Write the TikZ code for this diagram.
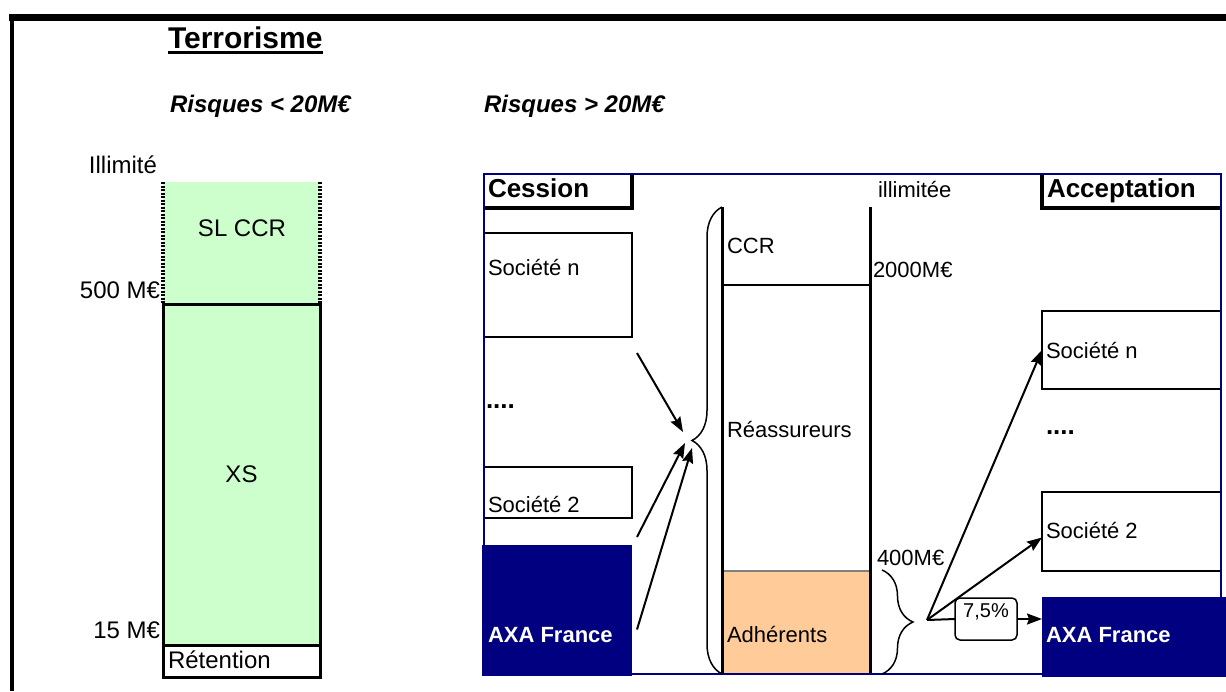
\documentclass[tikz,border=0pt]{standalone}
\usepackage{fontspec}
\setmainfont{Liberation Sans}
\usepackage{xcolor}
\usetikzlibrary{arrows.meta, positioning, decorations.pathreplacing}

\definecolor{axablue}{HTML}{000080}
\definecolor{xsgreen}{HTML}{CCFFCC}
\definecolor{adhorange}{HTML}{FFCC99}

\newcommand{\txtleft}{\fontsize{24}{28}\selectfont}
\newcommand{\txtright}{\fontsize{22}{26}\selectfont}
\newcommand{\txthead}{\bfseries\fontsize{26}{30}\selectfont}

\begin{document}
\begin{tikzpicture}[x=1pt, y=-1pt, inner sep=0pt, outer sep=0pt]
        \tikzstyle{txt} = [anchor=base west, font=\txtright]
        \tikzstyle{bigtxt} = [anchor=base west, font=\txtleft]
        \tikzstyle{head} = [anchor=base west, font=\txthead]
        \tikzstyle{company} = [rectangle, draw=black, line width=2.5pt, fill=white, anchor=north west]
        \tikzstyle{axa} = [rectangle, fill=axablue, anchor=north west]
        \tikzstyle{layer} = [rectangle, fill=xsgreen, anchor=north west, minimum width=157pt]
        \tikzstyle{tag} = [rectangle, draw=black, line width=1.5pt, fill=white, anchor=north west, minimum height=34pt]
        \tikzstyle{arrow} = [line width=2pt, -{Stealth[length=15pt, width=11pt, inset=2pt]}]
        \tikzstyle{brace} = [line width=1.5pt, decorate, decoration={brace, amplitude=30pt}]

        \useasboundingbox (0,0) rectangle (1226,691);

        \node (title) [anchor=base west, font=\bfseries\fontsize{30}{35}\selectfont] at (168,48) {Terrorisme};
        \draw [line width=3pt] ([yshift=-4pt]title.base west) -- ([yshift=-4pt]title.base east);
        \node (riskLow) [anchor=base west, font=\bfseries\itshape\fontsize{24}{28}\selectfont] at (170,112) {Risques < 20M€};
        \node (riskHigh) [anchor=base west, font=\bfseries\itshape\fontsize{24}{28}\selectfont] at (484,112) {Risques > 20M€};

        \node (slccr) [layer, minimum height=122pt] at (163,182) {};
        \node (xs) [layer, draw=black, line width=3pt, minimum height=341pt, font=\txtleft] at (163,304) {XS};
        \node (ret) [layer, fill=white, draw=black, line width=3pt, minimum height=32pt] at (163,645) {};
        \draw [line width=3.5pt, dash pattern=on 2pt off 1.5pt] (slccr.north west) -- (slccr.south west);
        \draw [line width=3.5pt, dash pattern=on 2pt off 1.5pt] (slccr.north east) -- (slccr.south east);
        \node (slccrTxt) [font=\txtleft, anchor=base] at (242,236) {SL CCR};
        \node (retTxt) [bigtxt] at (168,668) {Rétention};
        \node (illim) [bigtxt, anchor=base east] at (157,173) {Illimité};
        \node (m500) [bigtxt, anchor=base east] at (160,298) {500 M€};
        \node (m15) [bigtxt, anchor=base east] at (160,638) {15 M€};

        \node (cession) [tag, minimum width=148pt] at (484,174) {};
        \draw [line width=4pt] (cession.north east) -- (cession.south east) -- (cession.south west);
        \node (cessionTxt) [head] at (488,197) {Cession};
        \node (accept) [tag, minimum width=179pt] at (1042,174) {};
        \draw [line width=4pt] (accept.north west) -- (accept.south west) -- (accept.south east);
        \node (acceptTxt) [head] at (1047,197) {Acceptation};
        \node (unlim) [txt] at (878,197) {illimitée};

        \node (cesN) [company, minimum width=148pt, minimum height=104pt] at (484,233) {};
        \node (cesNTxt) [txt] at (488,275) {Société n};
        \node (cesDots) [anchor=base west, font=\txthead] at (486,408) {....};
        \node (ces2) [company, minimum width=148pt, minimum height=51pt] at (484,467) {};
        \node (ces2Txt) [txt] at (488,512) {Société 2};
        \node (cesAXA) [axa, minimum width=150pt, minimum height=131pt] at (482,545) {};
        \node (cesAXATxt) [txt, text=white, font=\bfseries\txtright] at (488,642) {AXA France};

        \node (adh) [rectangle, fill=adhorange, anchor=north west, minimum width=148pt, minimum height=103pt] at (722,571) {};
        \draw [line width=2pt, gray] (adh.north west) -- (adh.north east);
        \draw [line width=3pt] (722,207) -- (722,674);
        \draw [line width=3pt] (870,207) -- (870,674);
        \draw [line width=2pt] (722,285) -- (870,285);
        \node (ccrTxt) [txt] at (727,253) {CCR};
        \node (reasTxt) [txt] at (727,437) {Réassureurs};
        \node (adhTxt) [txt] at (727,642) {Adhérents};
        \node (m2000) [txt] at (873,277) {2000M€};
        \node (m400) [txt] at (877,565) {400M€};

        \node (accN) [company, minimum width=179pt, minimum height=78pt] at (1042,311) {};
        \node (accNTxt) [txt] at (1046,358) {Société n};
        \node (accDots) [anchor=base west, font=\txthead] at (1046,434) {....};
        \node (acc2) [company, minimum width=179pt, minimum height=79pt] at (1042,492) {};
        \node (acc2Txt) [txt] at (1046,538) {Société 2};
        \node (accAXA) [axa, minimum width=184pt, minimum height=80pt] at (1042,597) {};
        \node (accAXATxt) [txt, text=white, font=\bfseries\txtright] at (1046,642) {AXA France};

        \node (rate) [rectangle, rounded corners=5pt, draw=black, line width=1.5pt, fill=white, anchor=north west, minimum width=62pt, minimum height=42pt, text height=15pt, text depth=19pt, font=\fontsize{20}{24}\selectfont] at (955,598) {7,5\%};

        \draw [axablue, line width=2.5pt] (484,174) rectangle (1221,674);
        \draw [line width=7pt] (8.5,17.5) -- (1226,17.5);
        \draw [line width=4.5pt] (12,14) -- (12,691);

        \draw [brace] (722,674) -- (722,207);
        \draw [brace, decoration={brace, amplitude=31pt}] (882,570) -- (882,674);

        \coordinate (lTip1) at (683,432);
        \coordinate (lTip2) at (685,443);
        \coordinate (lTip3) at (692,448);
        \coordinate (rTip) at (927,620);

        \draw [arrow] ([xshift=5pt, yshift=-16pt]cesN.south east) -- (lTip1);
        \draw [arrow] ([xshift=5pt, yshift=-19pt]ces2.south east) -- (lTip2);
        \draw [arrow] ([xshift=5pt, yshift=-19pt]cesAXA.east) -- (lTip3);

        \draw [arrow] (rTip) -- (accN.west);
        \draw [arrow] (rTip) -- ([yshift=-6pt]acc2.west);
        \draw [line width=2pt] (rTip) -- (rate.west);
        \draw [arrow] (rate.east) -- (rate.east -| accAXA.west);
\end{tikzpicture}
\end{document}
